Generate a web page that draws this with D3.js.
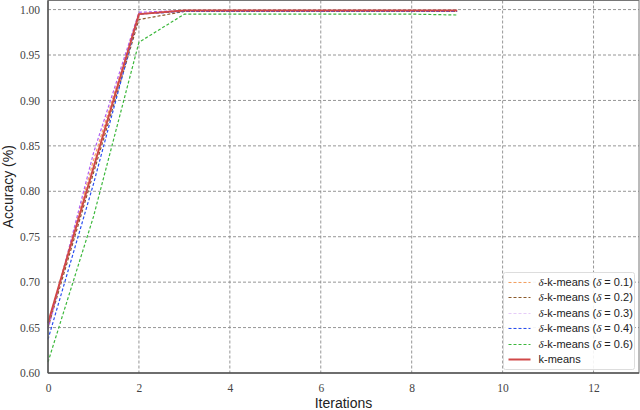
<!DOCTYPE html>
<html>
<head>
<meta charset="utf-8">
<script src="https://cdn.jsdelivr.net/npm/d3@7"></script>
<style>
  body { margin: 0; background: #fff; }
  svg { display: block; }
</style>
</head>
<body>
<svg width="640" height="410"></svg>
<script>
// data
var iterations = [0, 1, 2, 3, 4, 5, 6, 7, 8, 9];
var delta01 = [0.653, 0.834, 0.995, 0.999, 0.999, 0.999, 0.999, 0.999, 0.999, 0.999];
var delta02 = [0.650, 0.820, 0.989, 0.998, 0.998, 0.998, 0.998, 0.998, 0.998, 0.998];
var delta03 = [0.648, 0.842, 0.997, 0.999, 0.999, 0.999, 0.999, 0.999, 0.999, 0.999];
var delta04 = [0.637, 0.808, 0.995, 0.998, 0.998, 0.998, 0.998, 0.998, 0.998, 0.998];
var delta06 = [0.612, 0.772, 0.964, 0.995, 0.995, 0.995, 0.995, 0.995, 0.995, 0.994];
var kmeans  = [0.655, 0.826, 0.995, 0.999, 0.999, 0.999, 0.999, 0.999, 0.999, 0.999];
var yTicks = [0.60, 0.65, 0.70, 0.75, 0.80, 0.85, 0.90, 0.95, 1.00];
var xTicks = [0, 2, 4, 6, 8, 10, 12];

var series = [
  { label: "0.1", values: delta01, color: "#f4a060", legendColor: "#f4a060", dash: "3,2", width: 1.2 },
  { label: "0.2", values: delta02, color: "#8b5a2b", legendColor: "#8b5a2b", dash: "3,2", width: 1.2 },
  { label: "0.3", values: delta03, color: "#b060f0", legendColor: "#e6ccf8", dash: "3,2", width: 1.2 },
  { label: "0.4", values: delta04, color: "#2a4ff0", legendColor: "#2a4ff0", dash: "3,2", width: 1.2 },
  { label: "0.6", values: delta06, color: "#3cb83c", legendColor: "#3cb83c", dash: "3,2", width: 1.2 },
  { label: null, values: kmeans, color: "#d04848", legendColor: "#d04848", dash: null, width: 2 }
];

var serif = "'Liberation Serif', 'DejaVu Serif', serif";
var sans = "'Liberation Sans', Arial, sans-serif";

var margin = { top: 0.5, right: 1, bottom: 37, left: 48 };
var svg = d3.select("svg");
var width = 640 - margin.left - margin.right;
var height = 410 - margin.top - margin.bottom;

var g = svg.append("g")
  .attr("transform", "translate(" + margin.left + "," + margin.top + ")");

var x = d3.scaleLinear().domain([0, 13]).range([0, width]);
var y = d3.scaleLinear().domain([0.6, 1.01]).range([height, 0]);

// grid
g.append("g")
  .selectAll("line")
  .data(xTicks.slice(1))
  .enter()
  .append("line")
  .attr("x1", function (d) { return x(d); })
  .attr("x2", function (d) { return x(d); })
  .attr("y1", 0)
  .attr("y2", height)
  .attr("stroke", "#8a8a8a")
  .attr("stroke-width", 0.9)
  .attr("stroke-dasharray", "3,2");

g.append("g")
  .selectAll("line")
  .data(yTicks.slice(1))
  .enter()
  .append("line")
  .attr("x1", 0)
  .attr("x2", width)
  .attr("y1", function (d) { return y(d); })
  .attr("y2", function (d) { return y(d); })
  .attr("stroke", "#8a8a8a")
  .attr("stroke-width", 0.9)
  .attr("stroke-dasharray", "3,2");

// axes
var xAxis = g.append("g")
  .attr("transform", "translate(0," + height + ")")
  .call(d3.axisBottom(x).tickValues(xTicks).tickSize(0).tickPadding(11).tickFormat(d3.format("d")));
var yAxis = g.append("g")
  .call(d3.axisLeft(y).tickValues(yTicks).tickSize(0).tickPadding(8).tickFormat(d3.format(".2f")));
xAxis.select(".domain").remove();
yAxis.select(".domain").remove();
g.selectAll(".tick text")
  .style("font-family", serif)
  .style("font-size", "11.5px")
  .attr("fill", "#444");

// lines
var line = d3.line()
  .x(function (d, i) { return x(iterations[i]); })
  .y(function (d) { return y(d); });

series.forEach(function (s) {
  g.append("path")
    .datum(s.values)
    .attr("fill", "none")
    .attr("stroke", s.color)
    .attr("stroke-width", s.width)
    .attr("stroke-dasharray", s.dash)
    .attr("d", line);
});

// frame
g.append("rect")
  .attr("x", 0)
  .attr("y", 0)
  .attr("width", width)
  .attr("height", height)
  .attr("fill", "none")
  .attr("stroke", "#777")
  .attr("stroke-width", 1);
g.append("line")
  .attr("x1", 0).attr("x2", 0).attr("y1", 0).attr("y2", height)
  .attr("stroke", "#555").attr("stroke-width", 1.5);
g.append("line")
  .attr("x1", 0).attr("x2", width).attr("y1", height).attr("y2", height)
  .attr("stroke", "#555").attr("stroke-width", 1.5);

// axis labels
svg.append("text")
  .attr("x", margin.left + width / 2)
  .attr("y", 408)
  .attr("text-anchor", "middle")
  .style("font-family", sans)
  .style("font-size", "14px")
  .attr("fill", "#222")
  .text("Iterations");

svg.append("text")
  .attr("transform", "translate(13," + (margin.top + height / 2) + ") rotate(-90)")
  .attr("text-anchor", "middle")
  .style("font-family", sans)
  .style("font-size", "14px")
  .attr("fill", "#222")
  .text("Accuracy (%)");

// legend
var legend = svg.append("g").attr("transform", "translate(503.5,272.5)");
legend.append("rect")
  .attr("width", 131)
  .attr("height", 97)
  .attr("rx", 2)
  .attr("fill", "#fff")
  .attr("fill-opacity", 0.9)
  .attr("stroke", "#ddd");

var item = legend.selectAll(".item")
  .data(series)
  .enter()
  .append("g")
  .attr("class", "item")
  .attr("transform", function (d, i) { return "translate(0," + Math.round(10 + i * 15.4) + ")"; });

item.append("line")
  .attr("x1", 5)
  .attr("x2", 27)
  .attr("stroke", function (d) { return d.legendColor; })
  .attr("stroke-width", function (d) { return d.width; })
  .attr("stroke-dasharray", function (d) { return d.dash; });

var txt = item.append("text")
  .attr("x", 35)
  .attr("dy", "0.35em")
  .style("font-family", sans)
  .style("font-size", "11px")
  .attr("fill", "#222");

txt.each(function (d) {
  var t = d3.select(this);
  if (d.label === null) {
    t.text("k-means");
    return;
  }
  t.append("tspan").style("font-family", serif).style("font-style", "italic").text("δ");
  t.append("tspan").text("-k-means (");
  t.append("tspan").style("font-family", serif).style("font-style", "italic").text("δ");
  t.append("tspan").text(" = " + d.label + ")");
});
</script>
</body>
</html>
